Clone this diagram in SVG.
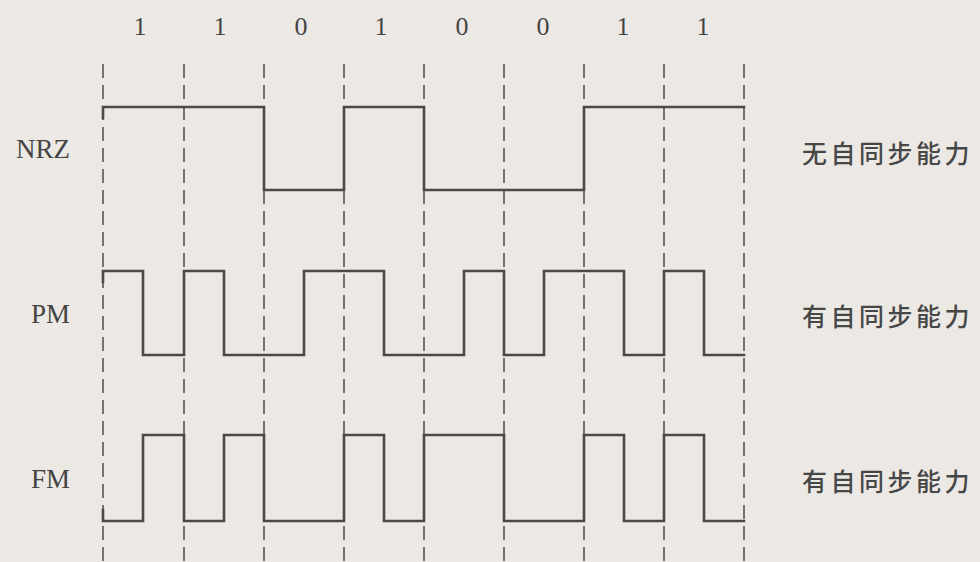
<svg xmlns="http://www.w3.org/2000/svg" width="980" height="562" viewBox="0 0 980 562">
<style>
.bg{fill:#ece9e5}
.grid{stroke:#555;stroke-width:1.6;stroke-dasharray:14 7;fill:none}
.wave{stroke:#4a4a4a;stroke-width:2.6;fill:none;stroke-linejoin:miter;stroke-linecap:square}
.lbl{font-family:"Liberation Serif","Times New Roman",serif;font-size:27px;fill:#444}
.bit{font-family:"Liberation Serif","Times New Roman",serif;font-size:26px;fill:#444;text-anchor:middle}
.cn{font-family:"Noto Sans CJK SC","Noto Sans",sans-serif;font-size:25px;font-weight:500;fill:#474747;letter-spacing:3.5px}
</style>
<rect class="bg" x="0" y="0" width="980" height="562"/>
<g id="bits">
<text class="bit" x="140" y="35">1</text>
<text class="bit" x="220" y="35">1</text>
<text class="bit" x="301" y="35">0</text>
<text class="bit" x="381" y="35">1</text>
<text class="bit" x="462" y="35">0</text>
<text class="bit" x="543" y="35">0</text>
<text class="bit" x="623" y="35">1</text>
<text class="bit" x="703" y="35">1</text>
</g>
<g id="grid">
<line class="grid" x1="103" y1="64" x2="103" y2="562"/>
<line class="grid" x1="184" y1="64" x2="184" y2="562"/>
<line class="grid" x1="264" y1="64" x2="264" y2="562"/>
<line class="grid" x1="344" y1="64" x2="344" y2="562"/>
<line class="grid" x1="424" y1="64" x2="424" y2="562"/>
<line class="grid" x1="504" y1="64" x2="504" y2="562"/>
<line class="grid" x1="584" y1="64" x2="584" y2="562"/>
<line class="grid" x1="664" y1="64" x2="664" y2="562"/>
<line class="grid" x1="744" y1="64" x2="744" y2="562"/>
</g>
<g id="nrz">
<text class="lbl" x="70" y="158" text-anchor="end">NRZ</text>
<path class="wave" d="M103 118 V107 H264 V190 H344 V107 H424 V190 H584 V107 H744"/>
<text class="cn" x="802" y="163">无自同步能力</text>
</g>
<g id="pm">
<text class="lbl" x="70" y="323" text-anchor="end">PM</text>
<path class="wave" d="M103 282 V271 H143 V355 H184 V271 H224 V355 H304 V271 H384 V355 H464 V271 H504 V355 H544 V271 H624 V355 H664 V271 H704 V355 H744"/>
<text class="cn" x="802" y="326">有自同步能力</text>
</g>
<g id="fm">
<text class="lbl" x="70" y="488" text-anchor="end">FM</text>
<path class="wave" d="M103 510 V521 H143 V435 H184 V521 H224 V435 H264 V521 H344 V435 H384 V521 H424 V435 H504 V521 H584 V435 H624 V521 H664 V435 H704 V521 H744"/>
<text class="cn" x="802" y="491">有自同步能力</text>
</g>
</svg>
